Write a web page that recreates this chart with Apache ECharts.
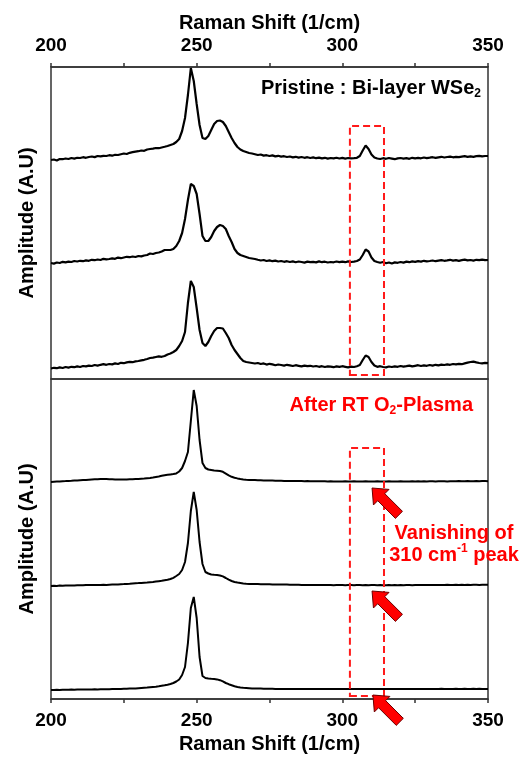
<!DOCTYPE html>
<html>
<head>
<meta charset="utf-8">
<script src="https://cdn.jsdelivr.net/npm/echarts@6/dist/echarts.min.js"></script>
<style>html,body{margin:0;padding:0;background:#fff}#c{width:520px;height:757px}</style>
</head>
<body>
<div id="c"></div>
<script>
// Raman shift axis (1/cm)
const xStart = 200, xStep = 1;
const xTicks = [200, 250, 300, 350];

// Pristine bi-layer WSe2 spectra (relative amplitude, a.u.)
const pristine1 = [1,1.5,0.5,2,1.8,2.5,2,3,2.4,3.2, 3,3.8,3.2,4,4.5,3.9,5,4.6,5.2,5, 5.8,5.3,6.2,6,6.8,7.5,7,8.2,8.8,9.4, 9.8,10.5,10.2,11.5,12,12.4,13,12.8,13.5,14.2, 15,16,17,19,22,30,43,66,93,80, 57,36,23,22,25,31,37,40,40.5,39, 35,29,23,18,14,11.5,10,9,8,7.5, 6.8,6,6.5,5.4,5.8,5,5.6,4.6,5.2,4.4, 4.8,4,4.5,3.6,4.2,3.4,4,3.2,3.8,3, 3.6,2.8,3.4,2.6,3.2,2.4,3,2.6,3.3,2.5, 3.1,2.4,3,2.6,2.8,3.2,5,10.5,15.5,12, 6.5,3.5,2.5,2,2.8,2.2,3,2.4,1.8,2.6, 3,2.4,2.8,2.2,3.2,2.6,3.1,2.7,3.5,2.9, 3.3,3.8,3.1,3.7,4.2,3.5,4,4.4,3.7,4.2, 3.8,4.4,4.9,4.1,4.6,4.2,4.8,5.2,4.6,5, 5];
const pristine2 = [1,0.4,1.5,1,2.2,1.6,2.4,2,3,2.5, 3.2,2.8,3.6,3.2,4.2,3.8,4.5,4,5.2,4.6, 5,5.6,5.2,6.4,5.8,6.5,7.2,6.8,7.5,7, 8,7.6,8.5,9,10.5,10,11,11.5,12.5,14, 14,14,15,18,23,31,45,64,80,78, 70,50,28,23,23,27,33,37,39,38, 35,28,22,15,11,9,8,7,6,5.5, 5,4.2,3.5,4,3,3.6,2.8,3.4,2.5,3, 2.2,2.8,2,2.6,1.8,2.5,2,1.4,2.4,1.8, 2.2,1.6,2.6,1.8,2.3,1.5,2,1.7,2.5,1.9, 2.4,1.8,2.6,2,2.4,3,4.5,9,14.5,12.5, 6.5,3,2,1.2,2,0.8,1.5,0.5,1.6,1.2, 2,1.4,2.4,1.8,2.6,2.2,2.8,2.4,3.2,2.6, 3,3.5,2.8,3.4,3.9,3.2,3.6,4.2,3.4,3.8, 3.2,3.8,4.4,3.6,4,3.4,4.2,3.8,4.4,3.8, 4];
const pristine3 = [0.5,1.2,0.8,1.6,1,2,1.4,2.2,1.8,2.6, 2,3,2.6,3.4,3,4,3.4,4.2,4.8,4.2, 5,4.6,5.6,5,6.2,5.8,6.6,7.2,6.8,7.6, 8,8.6,9.2,10,11,11.4,12,12.6,12.2,13, 14.5,15.5,17,19,23,28,37,66,88,82, 61,39,26,23,27,33,38,41,41,40.5, 36,31,24,19,15,11,8,7,6.5,6, 5.5,6,5,5.6,4.4,5.2,4.6,3.8,4.5,4, 3.4,4.2,3.6,3,3.8,3.2,2.6,3.4,2.8,3.2, 2.5,3,2.2,2.8,2,2.6,2.3,1.8,2.6,2.1, 2.8,2.2,1.6,2.4,2,2.8,4,9,13.5,12, 7,3.5,2.2,2.8,2,1.6,2.5,2,2.6,2.2, 3,2.4,2.8,3.4,2.6,3.2,3.8,3,3.6,3.2, 4,3.4,4.2,3.6,4.4,4,4.6,4.2,5,4.6, 5.2,4.8,5.6,6.4,7,7.4,6.6,6,5.6,6.2, 5.8];
const pristineOffsets = [218, 115, 10];

// After RT O2-plasma spectra (relative amplitude, a.u.)
const plasma1 = [0,0.3,0.5,0.5,0.8,0.9,1.1,1.2,1.4,1.5, 1.7,1.9,2.1,2.3,2.5,2.7,2.8,2.9,3,2.9, 2.8,2.7,2.6,2.5,2.5,2.5,2.6,2.7,2.8,3, 3.1,3.3,3.5,3.8,4.1,4.5,5,5.5,6.2,6.8, 7.2,7.6,8,8.6,10.5,14,21,30,61,92, 76,42,19,14,12.5,12,11.5,11.3,11,10.2, 8.4,6.6,5.2,4.3,3.6,3,2.6,2.3,2.1,2, 1.9,1.8,1.7,1.6,1.5,1.5,1.4,1.3,1.3,1.2, 1.1,1.1,1,1,1,0.9,0.9,0.8,0.9,0.8, 0.8,0.7,0.8,0.7,0.7,0.6,0.7,0.6,0.6,0.6, 0.5,0.7,0.6,0.5,0.7,0.6,0.5,0.6,0.7,0.5, 0.6,0.5,0.7,0.6,0.5,0.6,0.7,0.6,0.5,0.6, 0.7,0.6,0.6,0.5,0.7,0.6,0.8,0.6,0.7,0.6, 0.7,0.8,0.6,0.7,0.8,0.7,0.6,0.8,0.7,0.8, 0.9,0.7,0.8,0.9,0.8,0.7,0.9,0.8,1,0.9, 0.8];
const plasma2 = [0,0.2,0.1,0.4,0.3,0.5,0.4,0.6,0.6,0.7, 0.8,0.7,0.9,0.9,1,1,1.1,1,1.2,1.1, 1.3,1.4,1.5,1.6,1.8,1.9,2.1,2.3,2.6,2.8, 2.9,3.1,3.3,3.5,3.8,4,4.4,4.8,5.2,5.8, 6.2,7,8.2,10,12,16,24,43,75,94, 76,44,22,14,12.5,11.5,11.2,11,10.5,9.6, 8,6.3,5,4,3.4,3,2.6,2.3,2.1,2, 1.9,1.9,1.8,1.8,1.7,1.7,1.6,1.6,1.5,1.5, 1.4,1.4,1.3,1.3,1.2,1.2,1.1,1.1,1.1,1, 1,1.1,0.9,1,1,0.9,1,0.8,0.9,1, 0.9,0.8,1,0.9,0.8,0.9,1,0.8,0.9,0.8, 0.9,1,0.8,0.9,0.8,0.7,0.9,0.8,0.9,0.8, 0.9,0.8,1,0.9,0.8,1,0.9,1,0.9,1.1, 1,0.9,1.1,1,1.1,1,1.2,1,1.1,1.2, 1.1,1.2,1,1.2,1.1,1.3,1.2,1.1,1.3,1.2, 1.2];
const plasma3 = [0,0.1,0.2,0.1,0.3,0.2,0.3,0.4,0.3,0.4, 0.5,0.4,0.6,0.5,0.6,0.7,0.6,0.7,0.8,0.7, 0.8,0.9,1,1,1.1,1.2,1.3,1.4,1.5,1.6, 1.8,2,2.2,2.4,2.7,3,3.3,3.7,4.2,4.7, 5.3,6,7,8.5,10.5,15,23,47,82,93, 72,33,14,12,11.5,11.2,11,10.6,9.8,8.6, 7,5.8,4.8,3.8,3,2.5,2.2,2,1.8,1.6, 1.5,1.4,1.4,1.3,1.3,1.2,1.2,1.1,1.1,1, 1,1.1,0.9,1,1,0.9,1,1.1,0.9,1, 1,0.9,1,1.1,1,0.9,1,1,1.1,0.9, 1,1.1,0.9,1,1,1.1,0.9,1,1.1,1, 0.9,1,1.1,1,0.9,1,1.1,1,1,0.9, 1,1.1,1,0.9,1,1.1,1,1,1.1,1, 1,1.1,1,1,1.2,1,1.1,1,1.1,1.2, 1.1,1,1.2,1.1,1,1.2,1.1,1.2,1,1.1, 1.1];
const plasmaOffsets = [217, 113, 9];

// Annotation extents in data units
const boxX = [302.6, 314.3];
const boxYTop = [4, 253];
const boxYBottom = [3, 251];
const arrowTips = [[310.2, 211], [310.2, 108], [310.5, 4]];

const FONT = '"Liberation Sans", Arial, sans-serif';
const FS = 19;   // tick labels
const FT = 20;   // titles / annotations

function toPairs(arr, off) {
  return arr.map((v, i) => [xStart + i * xStep, +(v + off).toFixed(2)]);
}

const chart = echarts.init(document.getElementById('c'), null, {renderer: 'canvas'});

function xAxisCfg(gridIndex, position) {
  return {
    type: 'value', gridIndex, position, min: 200, max: 350, interval: 25,
    axisLine: {show: true, onZero: false, lineStyle: {color: '#333', width: 1.5}},
    axisTick: {show: true, inside: false, length: 4, lineStyle: {color: '#333', width: 1.5}},
    axisLabel: {
      show: true, margin: 12,
      formatter: v => xTicks.indexOf(v) >= 0 ? String(v) : '',
      color: '#000', fontSize: FS, fontWeight: 'bold', fontFamily: FONT
    },
    splitLine: {show: false},
    name: 'Raman Shift (1/cm)', nameLocation: 'middle',
    nameGap: position === 'top' ? 34 : 35,
    nameTextStyle: {color: '#000', fontSize: FT, fontWeight: 'bold', fontFamily: FONT}
  };
}
function yAxisCfg(gridIndex, max) {
  return {
    type: 'value', gridIndex, min: 0, max,
    axisLine: {show: false, onZero: false}, axisTick: {show: false}, axisLabel: {show: false},
    splitLine: {show: false},
    name: 'Amplitude (A.U)', nameLocation: 'middle', nameRotate: 90, nameGap: 14,
    nameTextStyle: {color: '#000', fontSize: FT, fontWeight: 'bold', fontFamily: FONT}
  };
}

const boxStyle = {color: 'rgba(0,0,0,0)', borderColor: '#ff1a1a', borderWidth: 2, borderType: [7, 4]};
const pristine = [pristine1, pristine2, pristine3];
const plasma = [plasma1, plasma2, plasma3];
const series = [];
pristine.forEach((arr, k) => {
  const s = {type: 'line', xAxisIndex: 0, yAxisIndex: 0, data: toPairs(arr, pristineOffsets[k]),
    showSymbol: false, lineStyle: {color: '#000', width: 2.2}, z: 3};
  if (k === 0) s.markArea = {silent: true, z: 4, itemStyle: boxStyle,
    data: [[{xAxis: boxX[0], yAxis: boxYTop[0]}, {xAxis: boxX[1], yAxis: boxYTop[1]}]]};
  series.push(s);
});
plasma.forEach((arr, k) => {
  const s = {type: 'line', xAxisIndex: 1, yAxisIndex: 1, data: toPairs(arr, plasmaOffsets[k]),
    showSymbol: false, lineStyle: {color: '#000', width: 2}, z: 3};
  if (k === 0) s.markArea = {silent: true, z: 4, itemStyle: boxStyle,
    data: [[{xAxis: boxX[0], yAxis: boxYBottom[0]}, {xAxis: boxX[1], yAxis: boxYBottom[1]}]]};
  series.push(s);
});

chart.setOption({
  animation: false,
  backgroundColor: '#fff',
  grid: [
    {left: 51, right: 32, top: 67, height: 312, show: true, borderColor: '#333', borderWidth: 1.5, backgroundColor: 'transparent'},
    {left: 51, right: 32, top: 379, height: 320, show: true, borderColor: '#333', borderWidth: 1.5, backgroundColor: 'transparent'}
  ],
  xAxis: [xAxisCfg(0, 'top'), xAxisCfg(1, 'bottom')],
  yAxis: [yAxisCfg(0, 312), yAxisCfg(1, 320)],
  series
});

// arrows (block arrows pointing up-left), positioned from data coords
function arrowPoints(tip) {
  const u = [Math.SQRT1_2, Math.SQRT1_2], v = [-Math.SQRT1_2, Math.SQRT1_2];
  const local = [[0, 0], [13, 11], [13, 5], [38, 5], [38, -5], [13, -5], [13, -11]];
  return local.map(([a, b]) => [tip[0] + a * u[0] + b * v[0], tip[1] + a * u[1] + b * v[1]]);
}
const graphics = [];
arrowTips.forEach(t => {
  const p = chart.convertToPixel({xAxisIndex: 1, yAxisIndex: 1}, t);
  graphics.push({type: 'polygon', z: 100, shape: {points: arrowPoints(p)},
    style: {fill: '#ff0000', stroke: '#6a0000', lineWidth: 1}});
});
const textBase = {fontSize: FT, fontWeight: 'bold', fontFamily: FONT};
graphics.push({type: 'text', z: 100, x: 481, y: 88, style: Object.assign({}, textBase, {
  text: 'Pristine : Bi-layer WSe{sub|2}', fill: '#000', align: 'right', verticalAlign: 'middle', lineHeight: 24,
  rich: {sub: {fontSize: 12, fontWeight: 'bold', fontFamily: FONT, fill: '#000', verticalAlign: 'bottom', lineHeight: 12}}
})});
graphics.push({type: 'text', z: 100, x: 473, y: 405, style: Object.assign({}, textBase, {
  text: 'After RT O{sub|2}-Plasma', fill: '#ff0000', align: 'right', verticalAlign: 'middle', lineHeight: 24,
  rich: {sub: {fontSize: 12, fontWeight: 'bold', fontFamily: FONT, fill: '#ff0000', verticalAlign: 'bottom', lineHeight: 12}}
})});
graphics.push({type: 'text', z: 100, x: 454, y: 533, style: Object.assign({}, textBase, {
  text: 'Vanishing of', fill: '#ff0000', align: 'center', verticalAlign: 'middle'
})});
graphics.push({type: 'text', z: 100, x: 454, y: 555, style: Object.assign({}, textBase, {
  text: '310 cm{sup|-1} peak', fill: '#ff0000', align: 'center', verticalAlign: 'middle', lineHeight: 24,
  rich: {sup: {fontSize: 12, fontWeight: 'bold', fontFamily: FONT, fill: '#ff0000', verticalAlign: 'top', lineHeight: 12}}
})});
chart.setOption({graphic: graphics});
</script>
</body>
</html>
